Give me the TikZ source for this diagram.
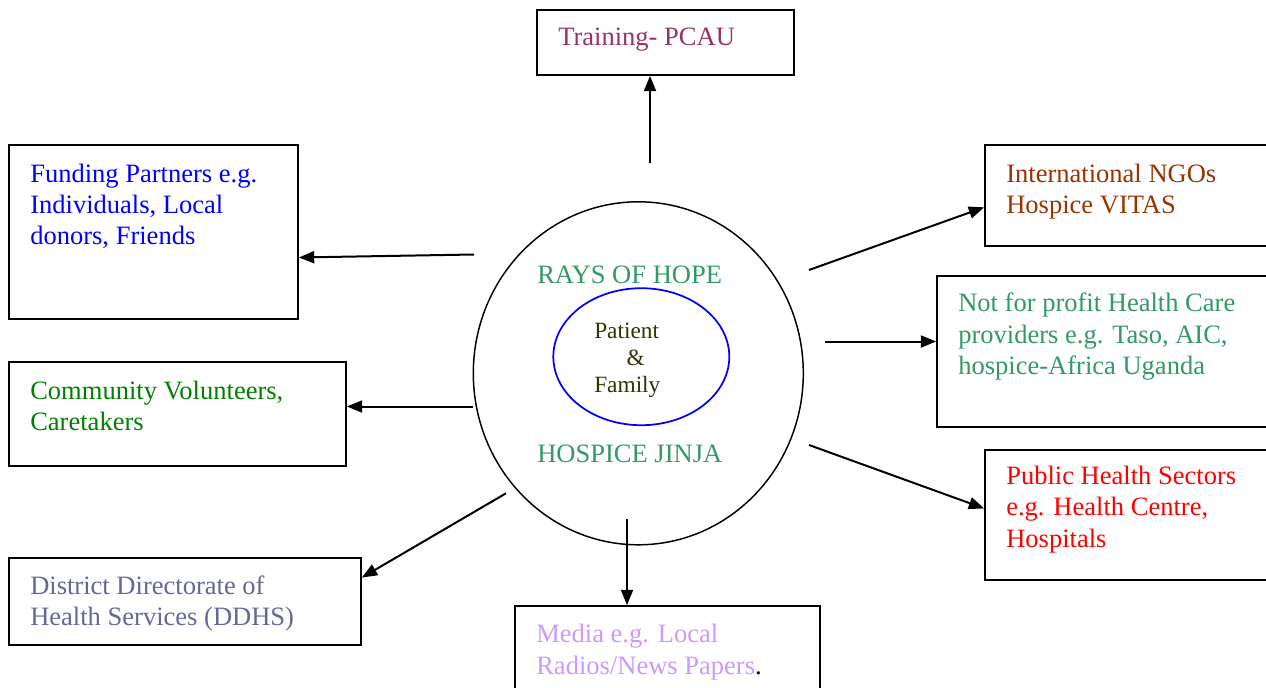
\documentclass[tikz,border=0pt]{standalone}
\usepackage{fontspec}
\setmainfont{Liberation Serif}
\usetikzlibrary{fit,arrows.meta,calc,shapes.geometric}
\definecolor{cTrain}{HTML}{993366}
\definecolor{cFund}{HTML}{0000FF}
\definecolor{cComm}{HTML}{008000}
\definecolor{cDist}{HTML}{666699}
\definecolor{cMedia}{HTML}{CC99FF}
\definecolor{cNgo}{HTML}{993300}
\definecolor{cNfp}{HTML}{339966}
\definecolor{cPub}{HTML}{FF0000}
\definecolor{cPat}{HTML}{333300}
\tikzset{
  box/.style={draw=black, line width=1.3pt, inner sep=0pt, rectangle},
  txt/.style={anchor=north west, inner sep=0pt, align=left, font=\fontsize{19.9}{23.4}\selectfont},
  conn/.style={line width=1.5pt, -{Triangle[length=11.5pt,width=9pt]}},
}
\begin{document}
\begin{tikzpicture}[x=0.75pt,y=-0.75pt]
\useasboundingbox (0,0) rectangle (1266,688);
\clip (0,0) rectangle (1266,688);
\fill[white] (0,0) rectangle (1266,688);

% boxes
\node[box, fit={(537,10) (794,75)}] (train) {};
\node[box, fit={(9,145) (298,319)}] (fund) {};
\node[box, fit={(9,362) (346,466)}] (comm) {};
\node[box, fit={(9,558) (361,645)}] (dist) {};
\node[box, fit={(515,606) (820,700)}] (media) {};
\node[box, fit={(985,145) (1275,246)}] (ngo) {};
\node[box, fit={(937,276) (1275,427)}] (nfp) {};
\node[box, fit={(985,450) (1275,580)}] (pub) {};

% texts
\node[txt, text=cTrain] (ttrain) at (558,27.6) {Training- PCAU};
\node[txt, text=cFund] (tfund) at (30,163.8) {Funding Partners e.g.\\Individuals, Local\\donors, Friends};
\node[txt, text=cComm] (tcomm) at (30,380.8) {Community Volunteers,\\Caretakers};
\node[txt, text=cDist] (tdist) at (30,575.8) {District Directorate of\\Health Services (DDHS)};
\node[txt, text=cMedia] (tmedia) at (536,624.3) {Media e.g. Local\\Radios/News Papers\textcolor{black}{.}};
\node[txt, text=cNgo] (tngo) at (1006,163.8) {International NGOs\\Hospice VITAS};
\node[txt, text=cNfp] (tnfp) at (958,293) {Not for profit Health Care\\providers e.g. Taso, AIC,\\hospice-Africa Uganda};
\node[txt, text=cPub] (tpub) at (1006,466) {Public Health Sectors\\e.g. Health Centre,\\Hospitals};

% centre
\node[draw=black, line width=1.1pt, ellipse, minimum width=330*0.75pt, minimum height=343*0.75pt, inner sep=0pt] (outer) at (638.3,373.3) {};
\node[draw=cFund, line width=1.3pt, ellipse, minimum width=176*0.75pt, minimum height=137*0.75pt, inner sep=0pt] (inner) at (641.3,356.7) {};
\node[txt, text=cNfp] (rays) at (537,265.9) {RAYS OF HOPE};
\node[txt, text=cNfp] (hosp) at (537,444.3) {HOSPICE JINJA};
\node[txt, text=cPat, font=\fontsize{17.5}{20.3}\selectfont] (pat) at (594,322.5) {Patient\\\hspace*{24.3pt}\&\\Family};

% connector start points
\coordinate (sUp) at (650,163);
\coordinate (sFund) at (474,254.5);
\coordinate (sComm) at (473,406.5);
\coordinate (sDist) at (506,493.3);
\coordinate (sMedia) at (627,519);
\coordinate (sNgo) at (809,270);
\coordinate (sNfp) at (825,341.5);
\coordinate (sPub) at (809,445);

\draw[conn] (sUp) -- (sUp |- train.south);
\draw[conn] (sFund) -- ($(fund.north east)!0.645!(fund.south east)$);
\draw[conn] (sComm) -- (sComm -| comm.east);
\draw[conn] (sDist) -- ($(dist.north east)!0.23!(dist.south east)$);
\draw[conn] (sMedia) -- (sMedia |- media.north);
\draw[conn] (sNgo) -- ($(ngo.north west)!0.615!(ngo.south west)$);
\draw[conn] (sNfp) -- (sNfp -| nfp.west);
\draw[conn] (sPub) -- ($(pub.north west)!0.45!(pub.south west)$);
\end{tikzpicture}
\end{document}
